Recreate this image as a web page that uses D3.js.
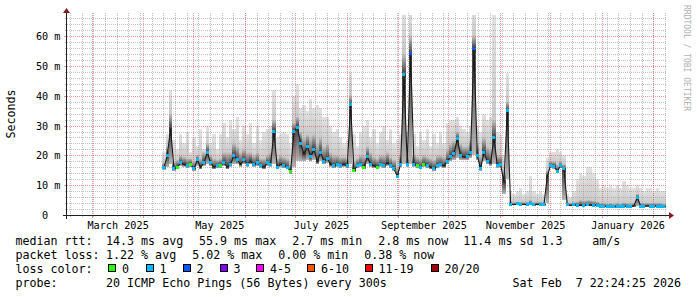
<!DOCTYPE html>
<html><head><meta charset="utf-8">
<script src="https://cdn.jsdelivr.net/npm/d3@7/dist/d3.min.js"></script>
<style>
html,body{margin:0;padding:0;background:#fff;}
svg{display:block;font-family:"DejaVu Sans Mono",monospace;}
text{white-space:pre;}
</style></head><body>
<svg id="chart" width="697" height="297"></svg>
<script>
// ---------------- data ----------------
const startDate = "2025-04-13";   // first consolidated sample (UTC)
const stepDays = 2;               // one sample every 2 days
const medianMs = [
 15.8,20.0,29.0,15.5,16.0,17.5,17.0,16.5,17.0,15.5,
 18.5,16.0,17.5,21.0,17.5,16.0,16.5,16.5,17.5,16.0,
 17.0,20.0,18.5,17.0,18.5,17.0,18.0,17.0,17.5,16.5,
 16.0,17.5,17.0,28.0,16.0,17.0,16.5,16.0,14.5,28.0,
 29.5,24.0,20.5,23.0,19.5,22.0,18.0,21.0,18.0,19.0,
 17.0,16.5,17.0,16.5,17.0,16.5,37.0,15.0,16.5,17.0,
 16.0,19.5,17.0,16.5,16.0,17.0,16.5,17.5,16.5,15.5,
 13.0,17.0,47.0,17.0,54.0,17.0,16.5,16.0,17.0,16.5,
 16.0,15.5,16.5,17.0,16.5,18.0,19.5,20.5,25.5,20.0,
 19.5,19.5,21.0,55.9,20.0,15.5,21.0,18.0,17.5,26.0,
 16.7,17.0,11.0,35.0,3.6,3.5,3.7,3.4,3.6,3.5,
 3.8,3.4,3.6,3.5,3.4,13.0,16.7,16.3,14.7,16.5,
 15.5,3.4,3.2,3.4,3.2,3.3,3.2,3.4,3.3,3.2,
 3.3,3.0,2.9,2.9,2.9,2.8,2.9,2.7,2.9,2.9,
 2.8,3.0,6.0,3.0,3.0,3.0,3.0,3.0,3.0,3.0,
 2.8];
const minMs = [
 15.2,16.0,17.0,14.8,15.3,16.5,16.2,15.7,16.0,14.8,
 16.5,15.3,16.5,17.0,16.5,15.3,15.7,15.7,16.5,15.3,
 16.2,17.0,17.0,16.2,17.0,16.2,17.0,16.2,16.5,15.7,
 15.3,16.5,16.2,17.0,15.3,16.2,15.7,15.3,13.8,16.0,
 18.0,18.0,18.0,18.5,18.0,18.5,17.0,18.0,17.0,17.5,
 16.2,15.7,16.2,15.7,16.2,15.7,17.0,14.3,15.7,16.2,
 15.3,17.0,16.2,15.7,15.3,16.2,15.7,16.5,15.7,14.8,
 12.3,16.2,17.0,16.2,17.0,16.2,15.7,15.3,16.2,15.7,
 15.3,14.8,15.7,16.2,15.7,17.0,18.0,18.5,19.0,18.5,
 18.5,18.5,19.0,20.0,18.5,14.8,18.0,17.0,16.5,17.0,
 15.8,16.0,7.0,12.0,3.3,3.2,3.4,3.1,3.3,3.2,
 3.4,3.1,3.3,3.2,3.1,4.0,15.8,15.5,14.0,15.7,
 5.0,3.1,2.9,3.1,2.9,3.0,2.9,3.1,3.0,2.9,
 3.0,2.7,2.6,2.6,2.6,2.5,2.6,2.5,2.6,2.6,
 2.5,2.7,3.0,2.7,2.7,2.7,2.7,2.7,2.7,2.7,
 2.5];
const midMs = [
 17.5,23,34,18,18.5,20,19.5,19,19,18,
 20,19,21,24,20,19,18.5,19,21,21,
 21,24,23,21,22,21,21,20,21,19,
 19,20,21,32,19,20,19.5,19,17,31,
 33,28,26,27,26,27,24,26,23,24,
 21,20,20,19.5,19.5,19,40,18,19,20,
 20,23,21,19.5,19,20,20,21,19.5,18.5,
 16,20,54,20,60,20,19.5,19,20,19.5,
 19,18.5,20,20,19.5,22,24,25,28,24,
 23,23,25,60,24,20,26,23,22,32,
 20,20,15,38,4.5,4.3,4.5,4.5,4.3,4.5,
 5,4.3,4.3,4.5,4.2,15,18,18,17,18,
 17,4.2,4,4.3,4.5,5,4.8,5,5,4.8,
 4.5,4,4,3.8,4,3.8,4,3.8,4.2,4,
 3.8,4,7,4,4,4,4,4,4,4,
 3.8];
const maxMs = [
 21,27,42,25,22,27,24,28,21,26,
 23,29,22,30,24,27,22,27,31,26,
 32,29,33,25,30,27,31,24,30,25,
 28,29,30,42,26,27,28,27,24,40,
 44,36,37,35,39,36,37,36,33,33,
 30,28,29,26,24,25,48,27,23,28,
 30,32,26,29,24,28,30,25,29,24,
 25,27,70,28,70,27,23,28,25,29,
 23,27,24,28,24,31,32,32,33,30,
 29,28,30,70,30,28,34,32,33,70,
 28,27,20,47.5,8,7,8,9,7,8,
 13,8,7,8,7,19,21,21,22,21,
 20,7,6,8,12,14,13,16,16,14,
 12,9,10,9,10,9,10,9,11.5,10,
 9,9,10,9,8,9,9,8,9,8,
 8];
// lost pings per sample (null = no loss mark drawn)
const lossPings = [
 1,1,null,1,0,1,null,1,0,1,
 1,null,1,1,1,null,1,0,1,null,
 1,1,1,null,1,1,null,1,1,1,
 null,1,1,1,1,null,1,1,0,1,
 1,1,null,1,1,1,null,1,1,1,
 null,1,1,1,null,1,1,0,1,1,
 0,1,1,null,0,1,1,null,1,1,
 1,1,1,1,2,1,0,1,0,1,
 null,1,1,1,null,1,1,1,1,1,
 null,1,1,2,1,1,1,1,null,1,
 1,1,null,1,1,null,1,1,null,1,
 1,1,null,1,1,null,1,1,1,1,
 1,1,null,1,1,null,1,1,null,1,
 1,1,1,1,1,1,1,1,1,1,
 1,null,1,1,1,null,1,1,1,1,
 1];
const yMaxMs = 67.08;
const yTickValues = [0,10,20,30,40,50,60];
const yTickLabels = ["0  ","10 m","20 m","30 m","40 m","50 m","60 m"];
const monthLabelStarts = ["2025-03-01","2025-05-01","2025-07-01","2025-09-01","2025-11-01","2026-01-01"];
const lossLabels = ["0","1","2","3","4-5","6-10","11-19","20/20"];
const lossColors = ["#26ff00","#00b8ff","#0059ff","#7e00ff","#ff00ff","#ff5500","#ff0000","#a00000"];
const rttRow = ["median rtt:","14.3 ms avg","55.9 ms max","2.7 ms min","2.8 ms now","11.4 ms sd","1.3","am/s"];
const lossRow = ["packet loss:","1.22 % avg","5.02 % max","0.00 % min","0.38 % now"];
const probeText = ["probe:","20 ICMP Echo Pings (56 Bytes) every 300s"];
const stampText = "Sat Feb  7 22:24:25 2026";
const yTitle = "Seconds";
const watermark = "RRDTOOL / TOBI OETIKER";

// ---------------- layout ----------------
const X0 = 67, X1 = 667, Y0 = 215, Y1 = 15;
const rttX = [15.4,106,199,292.2,378.2,463.3,541.4,592.2];
const lossX = [15.4,106,192.2,278.2,364.2];
const boxX = [108,145.5,182.5,219.5,256,307,364.5,430.5];
const lineY = [244.8,258.8,272.8,286.8];
const FS_LEG = 11.66, FS_AX = 10.2;

const svg = d3.select("#chart");
svg.append("rect").attr("width",697).attr("height",297).attr("fill","#fff");

const x = d3.scaleUtc()
  .domain([new Date(Date.UTC(2025,1,13,20)), new Date(Date.UTC(2026,1,8,20))])
  .range([X0, X1]);
const y = d3.scaleLinear().domain([0, yMaxMs]).range([Y0, Y1]);

const t0 = new Date(startDate + "T00:00:00Z");
const rows = medianMs.map((m,i)=>({
  d: d3.utcDay.offset(t0, i*stepDays),
  med: m, lo: minMs[i], mid: midMs[i], hi: maxMs[i], loss: lossPings[i]
}));
const colW = x(d3.utcDay.offset(t0, stepDays)) - x(t0);

const defs = svg.append("defs");
function grad(id, c1, c2){
  const g = defs.append("linearGradient").attr("id",id).attr("x1",0).attr("y1",0).attr("x2",0).attr("y2",1);
  g.append("stop").attr("offset","0%").attr("stop-color",c1);
  g.append("stop").attr("offset","100%").attr("stop-color",c2);
}
grad("gTop","#e2e2e2","#cacaca");
grad("gMid","#c6c6c6","#3c3c3c");
grad("gLow","#3c3c3c","#b8b8b8");
defs.append("clipPath").attr("id","plotClip").append("rect")
  .attr("x",X0).attr("y",Y1).attr("width",X1-X0).attr("height",Y0-Y1);

// smoke
const smoke = svg.append("g").attr("clip-path","url(#plotClip)").attr("shape-rendering","crispEdges");
rows.forEach(r=>{
  const xl = Math.round(x(r.d) - colW/2), xr = Math.round(x(r.d) + colW/2);
  const band = (a,b,f)=>{
    const ya = y(a), yb = y(b);
    if (Math.abs(ya-yb) < 0.01) return;
    smoke.append("rect").attr("x",xl).attr("width",xr-xl)
      .attr("y",Math.min(ya,yb)).attr("height",Math.abs(ya-yb)).attr("fill",f);
  };
  band(r.mid, r.hi, "url(#gTop)");
  band(r.med, r.mid, "url(#gMid)");
  band(r.lo, r.med, "url(#gLow)");
});

// grid
const gridMinor = "rgba(143,143,143,0.55)", gridMajor = "rgba(222,79,79,0.6)";
const grid = svg.append("g").attr("shape-rendering","crispEdges");
const [dStart, dEnd] = x.domain();
const weeks = d3.utcSunday.range(dStart, dEnd);
const months = d3.utcMonth.range(d3.utcDay.offset(dStart,1), dEnd);
const px = v => Math.floor(v) + 0.5;
const py = v => Math.round(v) + 0.5;
function vline(xx, col, ext){
  grid.append("line").attr("x1",xx).attr("x2",xx).attr("y1",Y1-2).attr("y2",Y0)
    .attr("stroke",col).attr("stroke-dasharray","1,1");
  grid.append("line").attr("x1",xx).attr("x2",xx).attr("y1",Y0+1).attr("y2",Y0+ext).attr("stroke",col);
}
function hline(yy, col, ext){
  grid.append("line").attr("x1",X0).attr("x2",X1).attr("y1",yy).attr("y2",yy)
    .attr("stroke",col).attr("stroke-dasharray","1,1");
  grid.append("line").attr("x1",X0-ext).attr("x2",X0-1).attr("y1",yy).attr("y2",yy).attr("stroke",col);
}
weeks.forEach(w=>vline(px(x(w)), gridMinor, 2));
d3.range(2, yMaxMs, 2).filter(v=>v%10!==0).forEach(v=>hline(py(y(v)), gridMinor, 2));
months.forEach(m=>vline(px(x(m)), gridMajor, 3));
yTickValues.filter(v=>v>0).forEach(v=>hline(py(y(v)), gridMajor, 3));

// median line + loss marks
const line = d3.line().x(r=>x(r.d)).y(r=>y(r.med));
svg.append("g").attr("clip-path","url(#plotClip)").append("path").datum(rows)
  .attr("d", line).attr("fill","none").attr("stroke","#1a1a1a").attr("stroke-width",1.1);
function lossIndex(n){
  if (n<=3) return n; if (n<=5) return 4; if (n<=10) return 5; if (n<=19) return 6; return 7;
}
svg.append("g").attr("shape-rendering","crispEdges").selectAll("rect")
  .data(rows.filter(r=>r.loss!==null)).join("rect")
  .attr("x",r=>Math.round(x(r.d)-1.5)).attr("y",r=>Math.round(y(r.med)-1.5))
  .attr("width",3).attr("height",3).attr("fill",r=>lossColors[lossIndex(r.loss)]);

// axes
const axisCol = "#1f1f1f", arrowCol = "#801f1f";
svg.append("line").attr("x1",X0-4).attr("x2",X1+4).attr("y1",Y0+0.5).attr("y2",Y0+0.5)
  .attr("stroke",axisCol).attr("shape-rendering","crispEdges");
svg.append("line").attr("x1",X0-0.5).attr("x2",X0-0.5).attr("y1",Y0+4).attr("y2",Y1-4)
  .attr("stroke",axisCol).attr("shape-rendering","crispEdges");
svg.append("path").attr("d",`M${X1+2},${Y0-3}L${X1+2},${Y0+4}L${X1+7},${Y0+0.5}Z`).attr("fill",arrowCol);
svg.append("path").attr("d",`M${X0-4},${Y1-2}L${X0+3},${Y1-2}L${X0-0.5},${Y1-7}Z`).attr("fill",arrowCol);

// axis labels
svg.append("g").selectAll("text").data(yTickValues).join("text")
  .attr("x",60.5).attr("y",v=>Math.round(y(v))+4.3).attr("text-anchor","end")
  .attr("xml:space","preserve").attr("font-size",FS_AX).attr("fill","#000")
  .text((v,i)=>yTickLabels[i]);
svg.append("g").selectAll("text").data(monthLabelStarts).join("text")
  .attr("x",s=>{const a=new Date(s+"T00:00:00Z"); const b=d3.utcMonth.offset(a,1); return (x(a)+x(b))/2;})
  .attr("y",228.6).attr("text-anchor","middle").attr("font-size",FS_AX).attr("fill","#000")
  .text(s=>d3.utcFormat("%B %Y")(new Date(s+"T00:00:00Z")));
svg.append("text").attr("transform","translate(15.3,114) rotate(-90)").attr("text-anchor","middle")
  .attr("font-size",FS_LEG).attr("fill","#000").text(yTitle);
svg.append("text").attr("transform","translate(683.5,5) rotate(90)").attr("text-anchor","start")
  .attr("font-size",8).attr("fill","#b0b0b0").text(watermark);

// legend
const leg = svg.append("g").attr("font-size",FS_LEG).attr("fill","#000").attr("xml:space","preserve");
rttRow.forEach((t,i)=>leg.append("text").attr("x",rttX[i]).attr("y",lineY[0]).text(t));
lossRow.forEach((t,i)=>leg.append("text").attr("x",lossX[i]).attr("y",lineY[1]).text(t));
leg.append("text").attr("x",15.4).attr("y",lineY[2]).text("loss color:");
lossLabels.forEach((t,i)=>{
  leg.append("rect").attr("x",boxX[i]+0.5).attr("y",264.5).attr("width",7).attr("height",7)
    .attr("fill",lossColors[i]).attr("stroke","#000").attr("shape-rendering","crispEdges");
  leg.append("text").attr("x",boxX[i]+14).attr("y",lineY[2]).text(t);
});
leg.append("text").attr("x",15.4).attr("y",lineY[3]).text(probeText[0]);
leg.append("text").attr("x",106).attr("y",lineY[3]).text(probeText[1]);
leg.append("text").attr("x",681).attr("y",lineY[3]).attr("text-anchor","end").text(stampText);
</script>
</body></html>
